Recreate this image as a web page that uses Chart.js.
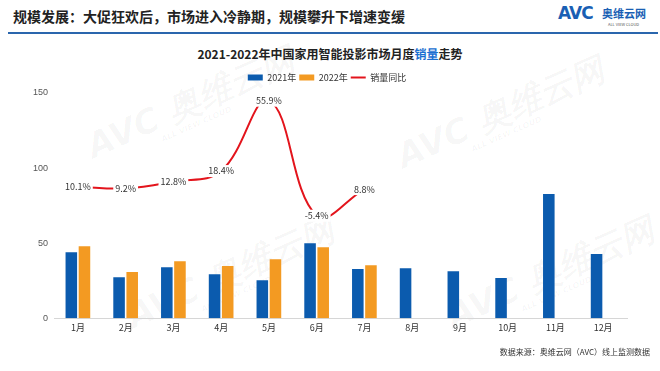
<!DOCTYPE html>
<html>
<head>
<meta charset="utf-8">
<script src="https://cdn.jsdelivr.net/npm/chart.js@4"></script>
<style>
  body { margin: 0; background: #fff; font-family: "Noto Sans CJK SC", "Noto Sans", sans-serif; }
  #page { position: relative; width: 660px; height: 371px; overflow: hidden; background: #fff; }
  #head { position: absolute; left: 13px; top: 6px; font-size: 14px; font-weight: bold; color: #222; line-height: 20px; }
  #rule { position: absolute; left: 8px; top: 32px; width: 650px; height: 2px; background: #2a66ad; }
  #logo { position: absolute; left: 558px; top: 3px; color: #1a5fb4; }
  #logo .avc { position: absolute; left: 0; top: 0; font: bold 17px "DejaVu Sans", sans-serif; letter-spacing: -1px; }
  #logo .cn { position: absolute; left: 44px; top: 2px; font-size: 11px; font-weight: bold; white-space: nowrap; }
  #logo .en { position: absolute; left: 50px; top: 18px; font-size: 4px; color: #555; white-space: nowrap; }
  #title { position: absolute; left: 0; width: 660px; top: 45px; text-align: center; font-size: 12px; font-weight: bold; color: #222; }
  #title span { color: #1a6fd1; }
  #foot { position: absolute; right: 10px; top: 346px; font-size: 8px; color: #333; }
  .wm { position: absolute; color: rgba(0,0,0,0.035); font: bold italic 34px "DejaVu Sans", sans-serif; transform: rotate(-24deg); white-space: nowrap; }
  .wm small { font-size: 8px; display: block; margin-left: 70px; margin-top: -6px; }
  #wrap { position: absolute; left: 0; top: 64px; width: 660px; height: 288px; }
</style>
</head>
<body>
<div id="page">
  <div class="wm" style="left:80px;top:80px;">AVC 奥维云网<small>ALL VIEW CLOUD</small></div>
  <div class="wm" style="left:390px;top:90px;">AVC 奥维云网<small>ALL VIEW CLOUD</small></div>
  <div class="wm" style="left:120px;top:250px;">AVC 奥维云网<small>ALL VIEW CLOUD</small></div>
  <div class="wm" style="left:440px;top:250px;">AVC 奥维云网<small>ALL VIEW CLOUD</small></div>
  <div id="head">规模发展：大促狂欢后，市场进入冷静期，规模攀升下增速变缓</div>
  <div id="rule"></div>
  <div id="logo"><div class="avc">AVC</div><div class="cn">奥维云网</div><div class="en">ALL VIEW CLOUD</div></div>
  <div id="title">2021-2022年中国家用智能投影市场月度<span>销量</span>走势</div>
  <div id="wrap"><canvas id="chart"></canvas></div>
  <div id="foot">数据来源：奥维云网（AVC）线上监测数据</div>
</div>
<script>
const months = ['1月', '2月', '3月', '4月', '5月', '6月', '7月', '8月', '9月', '10月', '11月', '12月'];
const sales2021 = [44, 27.3, 34, 29.3, 25.3, 50, 32.7, 33.3, 31.3, 26.7, 82.7, 42.7];
const sales2022 = [48, 30.7, 38, 34.7, 39.3, 47.3, 35.3, null, null, null, null, null];
const yoy = [10.1, 9.2, 12.8, 18.4, 55.9, -5.4, 8.8, null, null, null, null, null];
const yTicks = [0, 50, 100, 150];

// percentage labels sit on the line with a white box behind them
const pointLabels = {
    id: 'pointLabels',
    afterDatasetsDraw(chart) {
        const ctx = chart.ctx;
        const meta = chart.getDatasetMeta(2);
        ctx.save();
        ctx.font = '9px "Noto Sans CJK SC", sans-serif';
        ctx.textAlign = 'center';
        ctx.textBaseline = 'middle';
        meta.data.forEach((pt, i) => {
            if (yoy[i] === null) return;
            const txt = yoy[i].toFixed(1) + '%';
            const w = ctx.measureText(txt).width + 4;
            ctx.fillStyle = '#fff';
            ctx.fillRect(pt.x - w / 2, pt.y - 6, w, 12);
            ctx.fillStyle = '#333';
            ctx.fillText(txt, pt.x, pt.y);
        });
        ctx.restore();
    }
};

// legend items are packed tight, so add the vertical gap below it by hand
const legendGap = {
    id: 'legendGap',
    beforeInit(chart) {
        const fit = chart.legend.fit;
        chart.legend.fit = function () {
            fit.call(this);
            this.height += 1;
        };
    }
};

new Chart(document.getElementById('chart'), {
    type: 'bar',
    data: {
        labels: months,
        datasets: [
            { label: '2021年', data: sales2021, backgroundColor: '#0b5bae', pointStyle: 'rect', order: 2 },
            { label: '2022年', data: sales2022, backgroundColor: '#f39a22', pointStyle: 'rect', order: 2 },
            {
                type: 'line', label: '销量同比', data: yoy, yAxisID: 'y1',
                borderColor: '#e3141c', backgroundColor: '#e3141c', borderWidth: 2,
                pointRadius: 0, tension: 0.4, pointStyle: 'line', order: 1
            }
        ]
    },
    options: {
        responsive: true,
        maintainAspectRatio: false,
        animation: false,
        categoryPercentage: 0.55,
        barPercentage: 0.88,
        layout: { padding: { left: 27, right: 33, top: 6, bottom: 15 } },
        plugins: {
            legend: {
                labels: {
                    usePointStyle: true, pointStyleWidth: 15, boxHeight: 6,
                    color: '#333', font: { size: 9, family: '"Noto Sans CJK SC", sans-serif' },
                    padding: 3,
                    sort: (a, b) => a.datasetIndex - b.datasetIndex
                }
            },
            tooltip: { enabled: false }
        },
        scales: {
            x: {
                grid: { display: false, drawTicks: false },
                border: { display: true, color: '#d6d6d6' },
                ticks: { color: '#333', font: { size: 9, family: '"Noto Sans CJK SC", sans-serif' }, padding: 4 }
            },
            y: {
                min: 0, max: 150,
                afterBuildTicks: axis => { axis.ticks = yTicks.map(v => ({ value: v })); },
                grid: { display: false, drawTicks: false },
                border: { display: false },
                ticks: { color: '#555', font: { size: 9, family: '"Liberation Sans", sans-serif' }, padding: 6 }
            },
            y1: { display: false, min: -60, max: 60 }
        }
    },
    plugins: [pointLabels, legendGap]
});
</script>
</body>
</html>
